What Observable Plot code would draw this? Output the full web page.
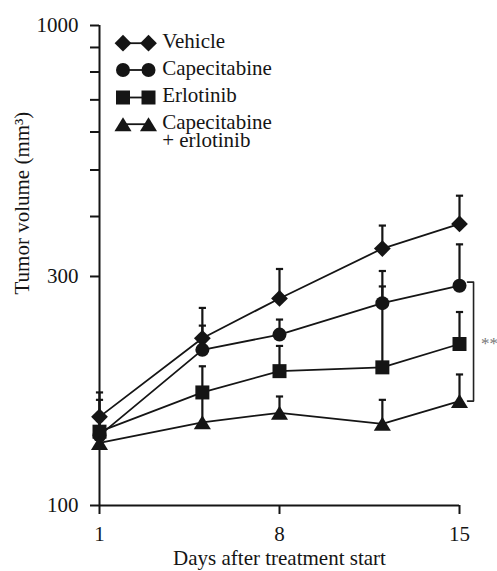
<!DOCTYPE html>
<html>
<head>
<meta charset="utf-8">
<script src="https://cdn.jsdelivr.net/npm/d3@7"></script>
<script src="https://cdn.jsdelivr.net/npm/@observablehq/plot@0.6"></script>
<style>
  html, body { margin: 0; padding: 0; background: #fff; }
  #wrap { position: relative; width: 497px; height: 571px; }
</style>
</head>
<body>
<div id="wrap"></div>
<script>
// ---- data ----
const days = [1, 5, 8, 12, 15];
const groups = ["Vehicle", "Capecitabine", "Erlotinib", "Capecitabine + erlotinib"];
const vehicleMean      = [153, 223, 270, 343, 386];
const vehicleUpper     = [172, 258, 311, 383, 442];
const capecitabineMean = [140, 211, 227, 264, 287];
const capecitabineUpper= [166, 237, 244, 308, 350];
const erlotinibMean    = [142.5, 172, 190.5, 194, 217];
const erlotinibUpper   = [150, 195, 215, 286, 253];
const comboMean        = [135, 149, 156, 148, 165];
const comboUpper       = [140, 170, 168.7, 166, 187.5];
const yTickLabeled = [100, 300, 1000];
const yTickMinor = [400, 500, 600, 700, 800, 900];
const xTicks = [1, 8, 15];
const bracketDay = 15, bracketTop = 292, bracketBottom = 165, bracketLabel = "**";
const legendLabels = ["Vehicle", "Capecitabine", "Erlotinib", "Capecitabine\n+ erlotinib"];

const means = [vehicleMean, capecitabineMean, erlotinibMean, comboMean];
const uppers = [vehicleUpper, capecitabineUpper, erlotinibUpper, comboUpper];
const rows = [];
groups.forEach((g, gi) => days.forEach((d, i) => rows.push({group: g, day: d, mean: means[gi][i], upper: uppers[gi][i]})));

// ---- symbols ----
const diamondSym = {draw(c, size) { const r = Math.sqrt(size / Math.PI) * 1.2; c.moveTo(0, -r); c.lineTo(r, 0); c.lineTo(0, r); c.lineTo(-r, 0); c.closePath(); }};
const squareSym = {draw(c, size) { const r = Math.sqrt(size / Math.PI); c.moveTo(-r, -r); c.lineTo(r, -r); c.lineTo(r, r); c.lineTo(-r, r); c.closePath(); }};
const triangleSym = {draw(c, size) { const r = Math.sqrt(size / Math.PI); const w = r * 1.22, h = r * 1.0; c.moveTo(0, -h); c.lineTo(w, h); c.lineTo(-w, h); c.closePath(); }};
const circleSym = d3.symbolCircle;
const capSym = {draw(c, size) { const r = Math.sqrt(size / Math.PI); c.moveTo(-r, 0); c.lineTo(r, 0); }};
const symbols = [diamondSym, circleSym, squareSym, triangleSym];

const ink = "#151515";
const font = "'Liberation Serif', 'Times New Roman', serif";

const marks = [];
// axes
marks.push(Plot.ruleX([days[0]], {stroke: ink, strokeWidth: 2}));
marks.push(Plot.ruleY([yTickLabeled[0]], {stroke: ink, strokeWidth: 2}));
marks.push(Plot.axisY(yTickMinor, {tickSize: 9, tickFormat: () => "", stroke: ink, strokeWidth: 2, label: null}));
marks.push(Plot.axisY(yTickLabeled, {tickSize: 9, tickPadding: 12, tickFormat: d => String(d), stroke: ink, strokeWidth: 2, fill: ink, fontSize: 21, label: null}));
marks.push(Plot.axisX(xTicks, {tickSize: 9, tickPadding: 12, tickFormat: d => String(d), stroke: ink, strokeWidth: 2, fill: ink, fontSize: 21, label: null}));
// axis titles
marks.push(Plot.text(["Days after treatment start"], {frameAnchor: "bottom", dy: 53, fontSize: 21, fill: ink, lineAnchor: "middle"}));
marks.push(Plot.text(["Tumor volume (mm³)"], {frameAnchor: "left", rotate: -90, dx: -77, dy: 29, fontSize: 21, fill: ink, lineAnchor: "middle"}));

groups.forEach((g, gi) => {
  const data = rows.filter(r => r.group === g);
  marks.push(Plot.line(data, {x: "day", y: "mean", stroke: ink, strokeWidth: 1.8}));
});
groups.forEach((g, gi) => {
  const data = rows.filter(r => r.group === g);
  marks.push(Plot.ruleX(data, {x: "day", y1: "mean", y2: "upper", stroke: ink, strokeWidth: 2.2}));
  marks.push(Plot.dot(data, {x: "day", y: "upper", symbol: capSym, r: 3.6, stroke: ink, strokeWidth: 2.2, fill: "none"}));
});
groups.forEach((g, gi) => {
  const data = rows.filter(r => r.group === g);
  marks.push(Plot.dot(data, {x: "day", y: "mean", symbol: symbols[gi], r: 7, fill: ink, stroke: "none"}));
});
// significance bracket
const bracket = [
  {x: bracketDay, y: bracketTop},
  {x: bracketDay + 0.235, y: bracketTop},
  {x: bracketDay + 0.235, y: bracketBottom},
  {x: bracketDay, y: bracketBottom}
];
marks.push(Plot.line(bracket, {x: "x", y: "y", dx: 8, stroke: "#222", strokeWidth: 1.6}));
marks.push(Plot.text([bracketLabel], {x: () => bracketDay, y: () => Math.sqrt(bracketTop * bracketBottom), dx: 30, dy: 2, fontSize: 17, fill: "#777", textAnchor: "middle"}));

// legend inside the frame, top-left (offsets from the frame corner)
const legendRowDy = [17.7, 44.5, 72, 98.7];
const segSym = {draw(c, size) { const r = Math.sqrt(size / Math.PI); c.moveTo(-r, 0); c.lineTo(r, 0); }};
legendLabels.forEach((label, i) => {
  const dy = legendRowDy[i];
  marks.push(Plot.dot([label], {frameAnchor: "top-left", dx: 36.2, dy, symbol: segSym, r: 12.75, stroke: ink, strokeWidth: 1.8, fill: "none"}));
  marks.push(Plot.dot([label], {frameAnchor: "top-left", dx: 23.5, dy, symbol: symbols[i], r: 7, fill: ink, stroke: "none"}));
  marks.push(Plot.dot([label], {frameAnchor: "top-left", dx: 49, dy, symbol: symbols[i], r: 7, fill: ink, stroke: "none"}));
  marks.push(Plot.text([label], {frameAnchor: "top-left", dx: 62.7, dy: dy - 8, text: d => d, textAnchor: "start", lineAnchor: "top", lineHeight: 0.86, fontSize: 21, fill: ink}));
});

const chart = Plot.plot({
  width: 497,
  height: 571,
  marginLeft: 99,
  marginRight: 38,
  marginTop: 25,
  marginBottom: 66,
  style: {fontFamily: font, background: "#fff", color: ink, overflow: "visible"},
  x: {domain: [1, 15], axis: null},
  y: {type: "log", domain: [100, 1000], axis: null},
  marks
});
document.getElementById("wrap").appendChild(chart);
</script>
</body>
</html>
